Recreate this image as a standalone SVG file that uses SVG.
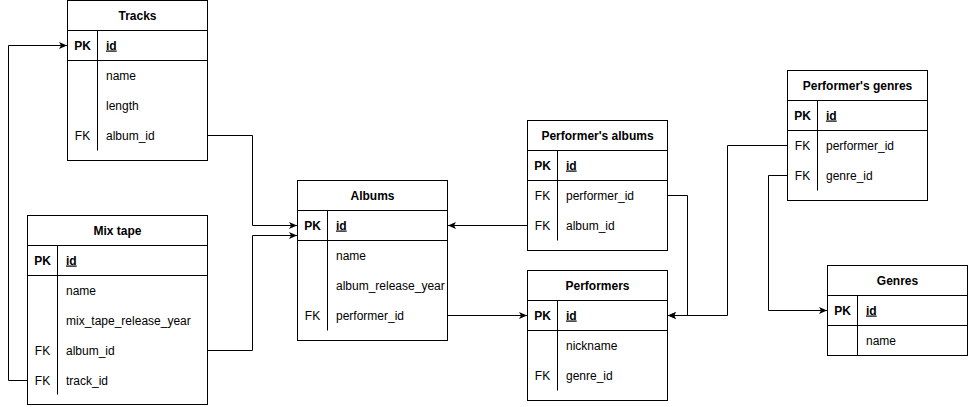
<svg xmlns="http://www.w3.org/2000/svg" width="977" height="407" viewBox="0 0 977 407">
  <style>
    text { font-family: "Liberation Sans", Arial, sans-serif; font-size: 12px; fill: #000; }
    .box { fill: #fff; stroke: #000; stroke-width: 1; }
    .ln { stroke: #000; stroke-width: 1; fill: none; }
    .title { font-weight: bold; text-anchor: middle; }
    .key { text-anchor: middle; }
    .pk { font-weight: bold; }
    .pkv { font-weight: bold; text-decoration: underline; }
    .edge { stroke: #000; stroke-width: 1; fill: none; marker-end: url(#arrow); }
  </style>
  <defs>
    <marker id="arrow" markerUnits="userSpaceOnUse" markerWidth="10" markerHeight="10" refX="8" refY="4" orient="auto">
      <path d="M0,0.5 L8,4 L0,7.5 L2,4 Z" fill="#000"/>
    </marker>
  </defs>

  <rect width="977" height="407" fill="#fff"/>

  <!-- connectors -->
  <g id="connectors">
    <path class="edge" d="M207.5,135.5 H252.5 V225.5 H297"/>
    <path class="edge" d="M207.5,350.5 H252.5 V235.5 H297"/>
    <path class="edge" d="M27.5,380.5 H8.5 V45.5 H67"/>
    <path class="edge" d="M527.5,225.5 H448"/>
    <path class="edge" d="M447.5,315.5 H527"/>
    <path class="edge" d="M667.5,195.5 H687.5 V315.5 H668"/>
    <path class="edge" d="M787.5,145.5 H727.5 V315.5 H668"/>
    <path class="edge" d="M787.5,175.5 H768.5 V310.5 H827"/>
  </g>

  <!-- Tracks -->
  <g id="tracks">
    <rect class="box" x="67.5" y="0.5" width="140" height="160"/>
    <line class="ln" x1="67.5" y1="30.5" x2="207.5" y2="30.5"/>
    <line class="ln" x1="67.5" y1="60.5" x2="207.5" y2="60.5"/>
    <line class="ln" x1="97.5" y1="30.5" x2="97.5" y2="150.5"/>
    <text class="title" x="137.5" y="19.5">Tracks</text>
    <text class="key pk" x="82.5" y="49.5">PK</text>
    <text class="pkv" x="106" y="49.5">id</text>
    <text x="106" y="79.5">name</text>
    <text x="106" y="109.5">length</text>
    <text class="key" x="82.5" y="139.5">FK</text>
    <text x="106" y="139.5">album_id</text>
  </g>

  <!-- Mix tape -->
  <g id="mix-tape">
    <rect class="box" x="27.5" y="215.5" width="180" height="189"/>
    <line class="ln" x1="27.5" y1="245.5" x2="207.5" y2="245.5"/>
    <line class="ln" x1="27.5" y1="275.5" x2="207.5" y2="275.5"/>
    <line class="ln" x1="57.5" y1="245.5" x2="57.5" y2="394.5"/>
    <text class="title" x="117.5" y="234.5">Mix tape</text>
    <text class="key pk" x="42.5" y="264.5">PK</text>
    <text class="pkv" x="66" y="264.5">id</text>
    <text x="66" y="294.5">name</text>
    <text x="66" y="324.5">mix_tape_release_year</text>
    <text class="key" x="42.5" y="354.5">FK</text>
    <text x="66" y="354.5">album_id</text>
    <text class="key" x="42.5" y="384.5">FK</text>
    <text x="66" y="384.5">track_id</text>
  </g>

  <!-- Albums -->
  <g id="albums">
    <rect class="box" x="297.5" y="180.5" width="150" height="160"/>
    <line class="ln" x1="297.5" y1="210.5" x2="447.5" y2="210.5"/>
    <line class="ln" x1="297.5" y1="240.5" x2="447.5" y2="240.5"/>
    <line class="ln" x1="327.5" y1="210.5" x2="327.5" y2="330.5"/>
    <text class="title" x="372.5" y="199.5">Albums</text>
    <text class="key pk" x="312.5" y="229.5">PK</text>
    <text class="pkv" x="336" y="229.5">id</text>
    <text x="336" y="259.5">name</text>
    <text x="336" y="289.5">album_release_year</text>
    <text class="key" x="312.5" y="319.5">FK</text>
    <text x="336" y="319.5">performer_id</text>
  </g>

  <!-- Performer's albums -->
  <g id="performers-albums">
    <rect class="box" x="527.5" y="120.5" width="140" height="130"/>
    <line class="ln" x1="527.5" y1="150.5" x2="667.5" y2="150.5"/>
    <line class="ln" x1="527.5" y1="180.5" x2="667.5" y2="180.5"/>
    <line class="ln" x1="557.5" y1="150.5" x2="557.5" y2="240.5"/>
    <text class="title" x="597.5" y="139.5">Performer's albums</text>
    <text class="key pk" x="542.5" y="169.5">PK</text>
    <text class="pkv" x="566" y="169.5">id</text>
    <text class="key" x="542.5" y="199.5">FK</text>
    <text x="566" y="199.5">performer_id</text>
    <text class="key" x="542.5" y="229.5">FK</text>
    <text x="566" y="229.5">album_id</text>
  </g>

  <!-- Performers -->
  <g id="performers">
    <rect class="box" x="527.5" y="270.5" width="140" height="130"/>
    <line class="ln" x1="527.5" y1="300.5" x2="667.5" y2="300.5"/>
    <line class="ln" x1="527.5" y1="330.5" x2="667.5" y2="330.5"/>
    <line class="ln" x1="557.5" y1="300.5" x2="557.5" y2="390.5"/>
    <text class="title" x="597.5" y="289.5">Performers</text>
    <text class="key pk" x="542.5" y="319.5">PK</text>
    <text class="pkv" x="566" y="319.5">id</text>
    <text x="566" y="349.5">nickname</text>
    <text class="key" x="542.5" y="379.5">FK</text>
    <text x="566" y="379.5">genre_id</text>
  </g>

  <!-- Performer's genres -->
  <g id="performers-genres">
    <rect class="box" x="787.5" y="70.5" width="140" height="130"/>
    <line class="ln" x1="787.5" y1="100.5" x2="927.5" y2="100.5"/>
    <line class="ln" x1="787.5" y1="130.5" x2="927.5" y2="130.5"/>
    <line class="ln" x1="817.5" y1="100.5" x2="817.5" y2="190.5"/>
    <text class="title" x="857.5" y="89.5">Performer's genres</text>
    <text class="key pk" x="802.5" y="119.5">PK</text>
    <text class="pkv" x="826" y="119.5">id</text>
    <text class="key" x="802.5" y="149.5">FK</text>
    <text x="826" y="149.5">performer_id</text>
    <text class="key" x="802.5" y="179.5">FK</text>
    <text x="826" y="179.5">genre_id</text>
  </g>

  <!-- Genres -->
  <g id="genres">
    <rect class="box" x="827.5" y="265.5" width="140" height="90"/>
    <line class="ln" x1="827.5" y1="295.5" x2="967.5" y2="295.5"/>
    <line class="ln" x1="827.5" y1="325.5" x2="967.5" y2="325.5"/>
    <line class="ln" x1="857.5" y1="295.5" x2="857.5" y2="355.5"/>
    <text class="title" x="897.5" y="284.5">Genres</text>
    <text class="key pk" x="842.5" y="314.5">PK</text>
    <text class="pkv" x="866" y="314.5">id</text>
    <text x="866" y="344.5">name</text>
  </g>
</svg>
